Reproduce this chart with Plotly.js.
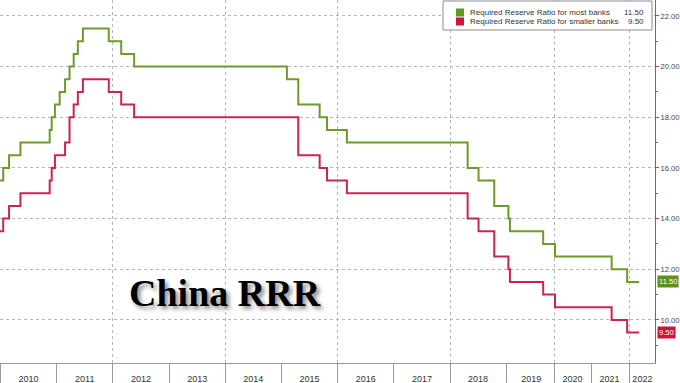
<!DOCTYPE html>
<html><head><meta charset="utf-8">
<script src="https://cdn.plot.ly/plotly-3.0.1.min.js"></script>
<style>html,body{margin:0;padding:0;background:#fff}#chart{width:680px;height:383px}</style>
</head><body><div id="chart"></div>
<script>
// Step-change dates (values hold until next date)
const dates = ['2009-12-01','2010-01-18','2010-02-25','2010-05-10','2010-11-16','2010-11-29','2010-12-20',
  '2011-01-20','2011-02-24','2011-03-25','2011-04-21','2011-05-18','2011-06-20','2011-12-05',
  '2012-02-24','2012-05-18','2015-02-05','2015-04-20','2015-09-06','2015-10-24','2016-03-01',
  '2018-04-25','2018-07-05','2018-10-15','2019-01-15','2019-01-25','2019-09-16','2020-01-06',
  '2021-07-15','2021-12-15','2022-03-03'];
const mostBanks = [15.5,16.0,16.5,17.0,17.5,18.0,18.5,
  19.0,19.5,20.0,20.5,21.0,21.5,21.0,
  20.5,20.0,19.5,18.5,18.0,17.5,17.0,
  16.0,15.5,14.5,14.0,13.5,13.0,12.5,
  12.0,11.5,11.5];
const smallerBanks = [13.5,14.0,14.5,15.0,15.5,16.0,16.5,
  16.5,17.0,18.0,18.5,19.0,19.5,19.0,
  18.5,18.0,18.0,16.5,16.0,15.5,15.0,
  14.0,13.5,12.5,12.0,11.5,11.0,10.5,
  10.0,9.5,9.5];
const seriesNames = ['Required Reserve Ratio for most banks','Required Reserve Ratio for smaller banks'];
const yearLabels = ['2010','2011','2012','2013','2014','2015','2016','2017','2018','2019','2020','2021','2022'];
const yearLabelDates = ['2010-07-02','2011-07-02','2012-07-02','2013-07-02','2014-07-02','2015-07-02','2016-07-02',
  '2017-07-02','2018-07-02','2019-07-01','2020-07-01','2021-07-01','2022-03-24'];
const chartTitle = 'China RRR';

const GREEN = '#6d9b2a', RED = '#cc2452';
const xRange = ['2009-12-28','2022-06-14'];
const breaks = [
  {bounds:['2019-05-01','2019-05-19']},
  {bounds:['2019-10-15','2019-11-19']},
  {bounds:['2020-02-01','2020-04-04']},
  {bounds:['2020-09-01','2020-11-03']},
  {bounds:['2021-03-01','2021-05-02']},
  {bounds:['2021-09-01','2021-10-23']}
];

const traces = [
  {x:dates, y:smallerBanks, type:'scatter', mode:'lines', line:{shape:'hv', color:RED, width:2}, name:seriesNames[1], hoverinfo:'skip'},
  {x:dates, y:mostBanks, type:'scatter', mode:'lines', line:{shape:'hv', color:GREEN, width:2}, name:seriesNames[0], hoverinfo:'skip'},
  {x:[dates[1]], y:[null], xaxis:'x2', yaxis:'y', type:'scatter', mode:'lines', showlegend:false, hoverinfo:'skip'}
];

const W = 655, H = 363; // plot area px
const px = v => v / W, py = v => (H - v) / H;
const lastMost = mostBanks[mostBanks.length-1], lastSmall = smallerBanks[smallerBanks.length-1];

const shapes = [
  {type:'rect', xref:'paper', yref:'paper', x0:px(443), x1:px(652), y0:py(30), y1:py(1), line:{color:'#8a8a8a', width:1}, fillcolor:'#ffffff', layer:'above'},
  {type:'rect', xref:'paper', yref:'paper', x0:px(456), x1:px(464), y0:py(16.5), y1:py(8.5), line:{width:0}, fillcolor:'#5e9a1e', layer:'above'},
  {type:'rect', xref:'paper', yref:'paper', x0:px(456), x1:px(464), y0:py(25.5), y1:py(17.5), line:{width:0}, fillcolor:'#d0143c', layer:'above'}
];
const lf = {family:'Liberation Sans, Arial, sans-serif', size:8, color:'#333'};
const annotations = [
  {xref:'paper', yref:'paper', x:px(468), y:py(12.5), xanchor:'left', yanchor:'middle', text:seriesNames[0], showarrow:false, font:lf},
  {xref:'paper', yref:'paper', x:px(468), y:py(21.5), xanchor:'left', yanchor:'middle', text:seriesNames[1], showarrow:false, font:lf},
  {xref:'paper', yref:'paper', x:px(646), y:py(12.5), xanchor:'right', yanchor:'middle', text:lastMost.toFixed(2), showarrow:false, font:lf},
  {xref:'paper', yref:'paper', x:px(646), y:py(21.5), xanchor:'right', yanchor:'middle', text:lastSmall.toFixed(2), showarrow:false, font:lf},
  {xref:'paper', yref:'y', x:1, xshift:2, y:lastMost, xanchor:'left', yanchor:'middle', text:lastMost.toFixed(2), showarrow:false,
   font:{family:'Liberation Sans, Arial, sans-serif', size:7.6, color:'#ffffff'}, bgcolor:'#5c8f1d', borderpad:1},
  {xref:'paper', yref:'y', x:1, xshift:2, y:lastSmall, xanchor:'left', yanchor:'middle', text:lastSmall.toFixed(2), showarrow:false,
   font:{family:'Liberation Sans, Arial, sans-serif', size:7.6, color:'#ffffff'}, bgcolor:'#cf1339', borderpad:1},
  {xref:'paper', yref:'paper', x:px(225), y:py(293), xanchor:'center', yanchor:'middle', text:chartTitle, showarrow:false,
   font:{family:'Liberation Serif, Times New Roman, serif', size:38, weight:'bold', color:'#000', shadow:'3px 3px 4px rgba(0,0,0,0.45)'}}
];

const layout = {
  width:680, height:383,
  margin:{l:0, r:25, t:0, b:20, pad:0},
  paper_bgcolor:'#ffffff', plot_bgcolor:'#ffffff',
  showlegend:false,
  xaxis:{type:'date', range:xRange, rangebreaks:breaks, dtick:'M24', tick0:'2010-01-01',
    showticklabels:false, ticks:'outside', ticklen:20, tickcolor:'#9a9a9a', tickwidth:1,
    showgrid:true, gridcolor:'#b5b5b5', griddash:'dot', gridwidth:1,
    showline:true, linecolor:'#9a9a9a', linewidth:1, zeroline:false,
    minor:{dtick:'M12', tick0:'2010-01-01', ticks:'outside', ticklen:20, tickcolor:'#9a9a9a', tickwidth:1, showgrid:false}},
  xaxis2:{type:'date', overlaying:'x', anchor:'y', side:'bottom', range:xRange, rangebreaks:breaks,
    tickmode:'array', tickvals:yearLabelDates, ticktext:yearLabels, ticks:'', showgrid:false, showline:false, zeroline:false,
    tickfont:{family:'Liberation Sans, Arial, sans-serif', size:9, color:'#333'}, ticklabelstandoff:9},
  yaxis:{side:'right', range:[8.3,22.63], dtick:2, tick0:0, tickformat:'.2f',
    ticks:'outside', ticklen:3, tickcolor:'#b3466a', tickwidth:1,
    showline:true, linecolor:'#b3466a', linewidth:1,
    showgrid:true, gridcolor:'#b5b5b5', griddash:'dot', gridwidth:1, zeroline:false,
    tickfont:{family:'Liberation Sans, Arial, sans-serif', size:7.6, color:'#444'},
    minor:{dtick:1, ticks:'outside', ticklen:2, tickcolor:'#b3466a', showgrid:false}},
  shapes:shapes,
  annotations:annotations
};

Plotly.newPlot('chart', traces, layout, {staticPlot:true, displayModeBar:false});
</script>
</body></html>
